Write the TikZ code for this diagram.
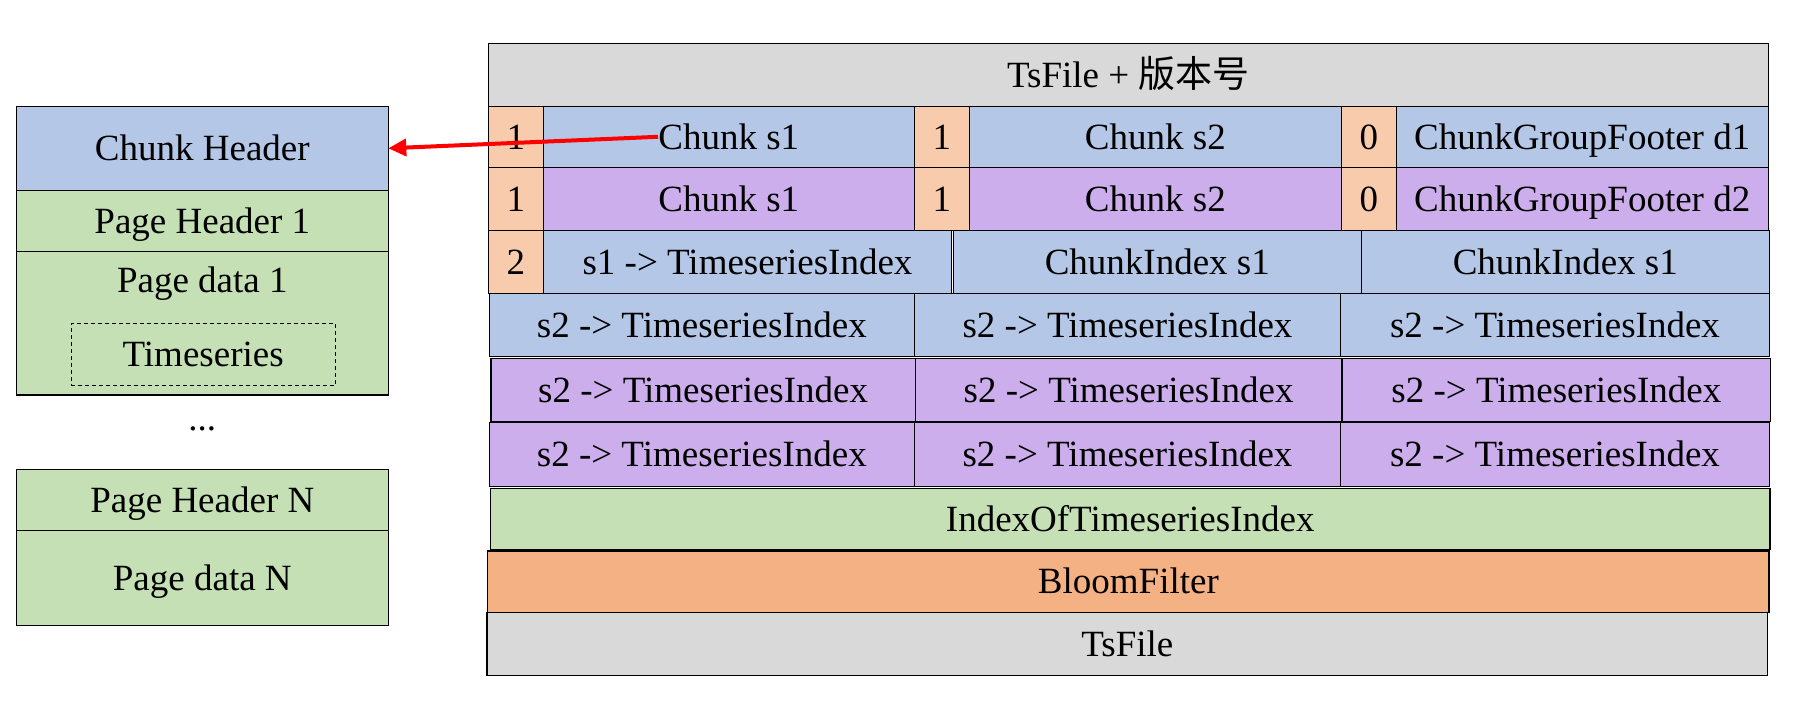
\documentclass[tikz,border=0pt]{standalone}
\usepackage{fontspec}
\setmainfont{Liberation Serif}
\newfontfamily\cjk{Noto Sans CJK SC}
\usetikzlibrary{arrows.meta}

\definecolor{cblue}{RGB}{180,199,231}
\definecolor{cpurple}{RGB}{204,174,236}
\definecolor{corange}{RGB}{248,203,173}
\definecolor{cgreen}{RGB}{197,224,180}
\definecolor{cbloom}{RGB}{244,177,131}
\definecolor{cgray}{RGB}{217,217,217}

% a box spanning two corners (in picture units), with centred text
% #1 name, #2 #3 top-left, #4 #5 bottom-right, #6 style, #7 text
\newcommand\cellbox[7]{%
  \pgfmathsetmacro\cbx{(#2+#4)/2}%
  \pgfmathsetmacro\cby{(#3+#5)/2}%
  \pgfmathsetmacro\cbw{(#4-#2)*0.5}%
  \pgfmathsetmacro\cbh{(#5-#3)*0.5}%
  \node[#6, minimum width=\cbw pt, minimum height=\cbh pt] (#1) at (\cbx,\cby) {#7};}

\begin{document}
\begin{tikzpicture}[x=0.5pt, y=-0.5pt,
  txtfont/.style={font=\fontsize{18.5}{22}\selectfont, text height=12.2pt, text depth=0pt},
  cellb/.style={draw=black, line width=0.6pt, inner sep=0pt, outer sep=0pt, txtfont},
  cblue/.style={cellb, fill=cblue},
  cpurple/.style={cellb, fill=cpurple},
  corange/.style={cellb, fill=corange},
  cgreen/.style={cellb, fill=cgreen},
  cbloom/.style={cellb, fill=cbloom},
  cgray/.style={cellb, fill=cgray},
  lbl/.style={inner sep=0pt, txtfont},
  dashbox/.style={draw=black, line width=0.45pt, dash pattern=on 2pt off 1.5pt,
                  inner sep=0pt, txtfont},
  ptr/.style={draw=red, line width=2pt, -{Triangle[length=9pt,width=8.5pt]}}]
\useasboundingbox (0,0) rectangle (1800,707);

% ---- chunk layout (left) ----
\cellbox{chunkhdr}{16.3}{106.3}{388.3}{190.3}{cblue}{Chunk Header}
\cellbox{pghdra}{16.3}{190.3}{388.3}{251.7}{cgreen}{Page Header 1}
\cellbox{pgdataa}{16.3}{251.7}{388.3}{395}{cgreen}{}
\node[lbl] (pgdataatxt) at (202.3,280) {Page data 1};
\cellbox{tseries}{71}{323.3}{335.3}{385.3}{dashbox}{Timeseries}
\node[lbl] (dots) at (202.3,418) {...};
\cellbox{pghdrn}{16.3}{469.3}{388.3}{530.3}{cgreen}{Page Header N}
\cellbox{pgdatan}{16.3}{530.3}{388.3}{625.3}{cgreen}{Page data N}

% ---- file layout (right) ----
\cellbox{head}{488.3}{43.3}{1768.3}{106.3}{cgray}{TsFile + {\cjk 版本号}}

% chunk group d1
\cellbox{ma}{488.3}{106.3}{543.3}{167.3}{corange}{1}
\cellbox{ca}{543.3}{106.3}{914.3}{167.3}{cblue}{}
\node[lbl] (catxt) at (728.8,136.8) {Chunk s1};
\cellbox{mb}{914.3}{106.3}{969.3}{167.3}{corange}{1}
\cellbox{cb}{969.3}{106.3}{1341.5}{167.3}{cblue}{Chunk s2}
\cellbox{mc}{1341.5}{106.3}{1396.2}{167.3}{corange}{0}
\cellbox{fa}{1396.2}{106.3}{1768.3}{167.3}{cblue}{ChunkGroupFooter d1}

% chunk group d2
\cellbox{md}{488.3}{167.3}{543.3}{230.3}{corange}{1}
\cellbox{cc}{543.3}{167.3}{914.3}{230.3}{cpurple}{Chunk s1}
\cellbox{me}{914.3}{167.3}{969.3}{230.3}{corange}{1}
\cellbox{cd}{969.3}{167.3}{1341.5}{230.3}{cpurple}{Chunk s2}
\cellbox{mf}{1341.5}{167.3}{1396.2}{230.3}{corange}{0}
\cellbox{fb}{1396.2}{167.3}{1768.3}{230.3}{cpurple}{ChunkGroupFooter d2}

% index region
\cellbox{mg}{488.3}{230.3}{543.3}{293.3}{corange}{2}
\cellbox{tia}{543.3}{230.3}{951.7}{293.3}{cblue}{s1 -> TimeseriesIndex}
\cellbox{cia}{953.3}{230.3}{1361.3}{293.3}{cblue}{ChunkIndex s1}
\cellbox{cib}{1361.3}{230.3}{1769.3}{293.3}{cblue}{ChunkIndex s1}

\cellbox{tib}{489.3}{293.3}{914.3}{356.7}{cblue}{s2 -> TimeseriesIndex}
\cellbox{tic}{914.3}{293.3}{1340.7}{356.7}{cblue}{s2 -> TimeseriesIndex}
\cellbox{tid}{1340.7}{293.3}{1769.3}{356.7}{cblue}{s2 -> TimeseriesIndex}

\cellbox{tie}{491}{358.7}{915.3}{421.7}{cpurple}{s2 -> TimeseriesIndex}
\cellbox{tif}{915.3}{358.7}{1342}{421.7}{cpurple}{s2 -> TimeseriesIndex}
\cellbox{tig}{1342}{358.7}{1770.7}{421.7}{cpurple}{s2 -> TimeseriesIndex}

\cellbox{tih}{489.3}{422.3}{914.3}{486.7}{cpurple}{s2 -> TimeseriesIndex}
\cellbox{tii}{914.3}{422.3}{1340.7}{486.7}{cpurple}{s2 -> TimeseriesIndex}
\cellbox{tij}{1340.7}{422.3}{1769.3}{486.7}{cpurple}{s2 -> TimeseriesIndex}

\cellbox{ioti}{490.4}{488.3}{1770}{549.3}{cgreen}{IndexOfTimeseriesIndex}
\cellbox{bloom}{487.8}{551}{1769}{612.3}{cbloom}{BloomFilter}
\cellbox{tail}{487}{612.3}{1767.7}{675.3}{cgray}{TsFile}

% pointer from the chunk to its header
\draw[ptr] (catxt.west) -- (chunkhdr.east);
\end{tikzpicture}
\end{document}
